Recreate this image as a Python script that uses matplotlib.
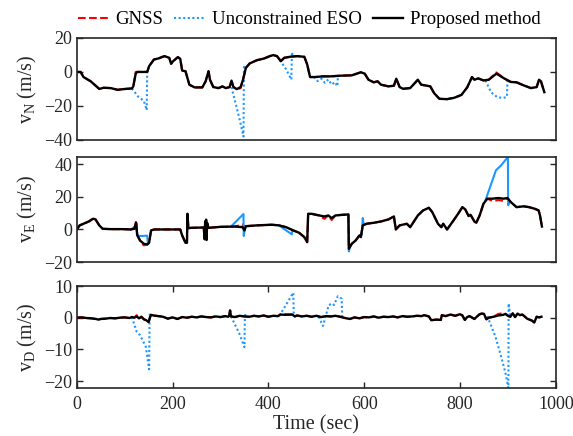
import numpy as np
import matplotlib
matplotlib.use("Agg")
import matplotlib.pyplot as plt
from matplotlib.lines import Line2D

plt.rcParams['font.family'] = ['Liberation Serif', 'DejaVu Serif']
plt.rcParams['mathtext.default'] = 'regular'

# ---------------- vN ----------------
t_n = [0,8,14,29,47,56,71,85,101,115,118,123,126,147,151,161,170,183,193,197,201,211,216,220,227,235,246,262,269,275,278,285,296,304,311,319,323,327,334,342,347,353,361,376,391,403,410,418,426,433,445,460,475,481,487,498,513,529,552,574,593,601,609,620,628,635,651,662,667,674,681,696,712,719,731,738,746,757,773,788,803,815,825,830,838,849,860,876,891,906,918,933,948,960,965,969,976]
prop_n = [0,0,-3,-5.5,-10,-9.3,-9.5,-10.5,-10,-9.7,-8.5,-1,0,0,3.4,7.3,7.9,9.3,8.3,4.8,6.3,8.7,7.7,0.8,0.4,-7.5,-9.1,-9.1,-5.5,0.4,-4.5,-8.9,-9.5,-8.5,-9.5,-8.9,-5.1,-8.9,-10.1,-8.9,-4.6,2.4,5,6.9,7.9,9.3,9.9,9.3,6.3,8.3,8.9,9.3,8.9,4.4,-3,-3,-2.6,-2.6,-2.2,-2,-0.2,-1,-4.6,-6.1,-5.5,-7.5,-8.5,-8.1,-4,-8.9,-9.9,-9.5,-4.6,-7.5,-8.1,-8.5,-12.5,-15.8,-16,-15.2,-13.5,-9.1,-3,-4.6,-3.8,-5,-4.6,-1,-3.6,-5.9,-6.1,-7.9,-9.5,-8.9,-4.6,-5.5,-11.9]
gnss_n = [0,0,-3,-5.5,-10,-9.3,-9.5,-10.5,-10,-9.7,-8.5,0,0,0,3.4,7.3,7.9,9.3,8.3,4.8,6.3,8.7,7.7,0.8,0.4,-7.5,-9.1,-9.1,-5.5,0.4,-4.5,-8.9,-9.5,-8.5,-9.5,-8.9,-5.1,-8.9,-10.1,-9.6,-4.6,2.4,5,6.9,7.9,9.3,9.9,9.3,6.3,8.3,8.9,9.3,8.9,4.4,-3,-3,-2.6,-2.6,-2.2,-2,-0.2,-1,-4.6,-6.1,-5.5,-7.5,-8.5,-8.1,-4,-8.9,-9.9,-9.5,-4.6,-7.5,-8.1,-8.5,-12.5,-15.8,-16,-15.2,-13.5,-9.1,-3,-4.6,-3.8,-5,-4.6,-0.3,-3.6,-5.9,-6.1,-7.9,-9.5,-8.9,-4.6,-5.5,-11.9]
eso_n_t = [115,128,140,146,147,148, np.nan,
           323,332,340,348,349,351, np.nan,
           424,437,448,449,451, np.nan,
           495,503,511,518,525,532,539,544,545,547, np.nan,
           853,865,878,890,898,899,901]
eso_n = [-9.7,-14.5,-17,-22.5,1,0, np.nan,
         -8.9,-19,-28,-38,4,3, np.nan,
         7,1.5,-4.5,11.5,9.3, np.nan,
         -2.8,-5.4,-4,-6.4,-4.4,-7.4,-6,-8.4,-3.5,-2.2, np.nan,
         -5,-12,-14.9,-15.3,-14.7,-5.5,-5.6]

# ---------------- vE ----------------
t_e = [0,6,14,25,34,39,47,54,71,94,113,120,124,126,132,140,147,151,155,162,193,216,220,227,230,231,233,239,265,267,268,269,270,271,272,275,300,330,346,350,353,376,407,422,437,452,464,475,481,483,490,506,517,525,532,540,555,567,568,574,582,590,593,597,605,620,635,651,662,666,674,689,696,712,723,735,742,754,761,765,773,784,796,805,811,818,822,830,834,841,849,857,868,880,891,899,906,918,933,944,956,964,967,971]
prop_e = [0,2.5,3.5,4.9,6.6,6.2,2.5,0.4,0.2,0.2,0,0.4,4.1,-3.3,-6.8,-8.8,-9.2,-8.2,-0.6,0,0,0,-3.7,-8.2,-8.2,9.6,0.8,1,1.2,-6,5,-5,6,-6.5,4,1,1.6,1.8,1.4,-0.6,2,2.5,2.9,2.5,1.4,-0.6,-2,-4.7,-7.8,9.6,9.6,8.6,8,8.6,7,8.6,9,9.2,-11.9,-8.8,-6.8,-3.7,-4.7,2.5,3.5,4.1,4.9,6.2,8,0,2.5,3.5,1.4,8.6,11.7,13.3,10.7,3.5,1.4,3.5,0,4.5,9.6,13.7,12.3,8.2,9,4.9,4.1,8.6,15.8,18.9,18.9,19.3,18.9,19.3,16.8,13.7,14.2,13.7,12.7,11.7,8.6,1.8]
gnss_e = [0,2.5,3.5,4.9,6.6,6.2,2.5,0.4,0.2,0.2,0,0.4,5.5,-3.3,-6.8,-9.8,-9.2,-8.2,-0.6,0,0,0,-3.7,-8.2,-8.2,9.6,0.8,1,1.2,-6,5,-5,6,-6.5,4,1,1.6,1.8,3,-0.6,2,2.5,2.9,2.5,1.4,-0.6,-2,-4.7,-7.8,9.6,9.6,8.6,6.5,8.6,5.8,8.6,9,9.2,-11.9,-8.8,-6.8,-3.7,-4.7,2.5,3.5,4.1,4.9,6.2,8,0,2.5,3.5,1.4,8.6,11.7,13.3,10.7,3.5,1.4,3.5,0,4.5,9.6,13.7,12.3,8.2,9,4.9,4.1,8.6,15.8,18.9,17.5,18,17.6,19.3,16.8,13.7,14.2,13.7,12.7,11.7,8.6,1.8]
eso_e_t = [113,120,124,127,135,147,148.5, np.nan,
           322,348,348.5,352, np.nan,
           422,449,450, np.nan,
           567,568,570, np.nan,
           595,597,599, np.nan,
           853,875,886,900,900.5,903]
eso_e = [0,1.5,2,-4,-4,-3.8,-9, np.nan,
         1.8,9.5,-4,2, np.nan,
         2.5,-3,-0.5, np.nan,
         9.2,-13.5,-10, np.nan,
         -3,7,3, np.nan,
         17.8,36.3,39.4,44.5,14.8,16.5]

# ---------------- vD ----------------
t_d = [0,10,20,30,40,45,50,60,70,80,90,100,110,115,120,125,130,135,140,145,150,153,155,160,170,180,190,200,210,220,230,240,250,260,270,280,290,300,310,316,318,320,322,330,340,350,360,370,380,390,400,410,420,425,435,450,455,460,470,480,490,500,510,520,530,540,550,560,570,580,590,600,610,620,630,640,650,660,670,680,690,700,710,720,725,735,740,750,760,762,770,780,790,800,805,810,815,820,830,840,845,850,855,860,870,880,890,895,900,905,910,915,920,925,930,935,940,945,950,955,960,965,970]
prop_d = [0,0.1,-0.1,-0.2,-0.4,-0.6,-0.4,-0.3,-0.1,-0.2,0,0.1,-0.1,0.2,0,0.4,-0.2,0.3,-0.5,-0.8,-1.4,0.2,0.9,0.7,0.5,0.3,-0.3,0.1,-0.4,0.2,0,0.3,0.1,0.4,0.2,0.1,0.4,0.2,0.5,0.3,0.6,2.3,0.4,0.2,0.6,0.4,0.3,0.6,0.4,0.7,0.3,0.6,0.5,1.0,0.9,1.0,0.4,0.7,0.4,0.6,0.3,0.6,0.2,0.5,0.4,0.6,0.3,-0.1,-0.4,0.1,-0.2,0.2,0.1,0.4,0,0.3,0.2,0.4,0.1,0.5,0.3,0.4,0.6,0.5,0.8,0.4,-0.8,-0.6,-0.7,0.8,0.5,1.0,0.6,1.1,0.7,-0.7,0.2,0.5,-0.4,1.0,1.3,1.2,-0.5,0,0.3,0.7,0.9,1.2,0.6,0.3,1.4,0.2,1.3,0.8,1.0,0.4,-0.3,-0.6,-0.9,-1.5,0.3,0.1,0.3]
gnss_d = [0,0.1,-0.1,-0.2,-0.4,-0.6,-0.4,-0.3,-0.1,-0.2,0,0.1,-0.1,0.2,0,0.8,-0.2,0.3,-0.5,-0.8,-1.4,0.2,0.9,0.7,0.5,0.3,-0.3,0.1,-0.4,0.2,0,0.3,0.1,0.4,0.2,0.1,0.4,0.2,0.5,0.3,0.6,2.3,0.4,0.2,0.6,0.4,0.3,0.6,0.4,0.7,0.3,0.6,0.5,1.0,1.1,1.0,0.4,0.7,0.4,0.6,0.3,0.6,0.2,0.5,0.4,0.6,0.3,-0.1,-0.4,0.1,-0.2,0.2,0.1,0.4,0,0.3,0.2,0.4,0.1,0.5,0.3,0.4,0.6,0.5,0.8,0.4,-0.8,-0.6,-0.7,0.8,0.5,1.0,0.6,1.1,0.7,-0.7,0.2,0.5,-0.4,1.0,1.3,1.2,-0.5,0,0.3,1.2,1.4,1.2,0.6,0.3,1.4,0.2,1.3,0.8,1.0,0.4,-0.3,-0.6,-0.9,-1.5,0.3,0.1,0.3]
eso_d_t = [115,125,132,144,151,152,155, np.nan,
           322,339,350,351,353, np.nan,
           423,452,453, np.nan,
           505,514,526,534,537,545,553,554, np.nan,
           857,874,885,895,901,901.5,905]
eso_d = [0.2,-4.4,-5.5,-9.1,-16.3,1,0.9, np.nan,
         0.4,-4.9,-9.3,1.4,0.4, np.nan,
         0.6,7.9,0.6, np.nan,
         0.3,-2.6,4,4.5,4,6.8,6,0.3, np.nan,
         0.5,-6,-11.8,-17.5,-22.2,4.5,0.3]

labels = ['GNSS', 'Unconstrained ESO', 'Proposed method']
ylabels = ['v$_{N}$ (m/s)', 'v$_{E}$ (m/s)', 'v$_{D}$ (m/s)']
ylims = [(-40, 20), (-20, 44.5), (-22.2, 10)]
yticks = [[-40, -20, 0, 20], [-20, 0, 20, 40], [-20, -10, 0, 10]]
xticks = [0, 200, 400, 600, 800, 1000]

RED = '#ff0000'
BLUE = '#1e96ff'
FRAME = '#262626'
FS_TICK = 13
FS_LAB = 14.5
FS_LEG = 13.5

fig = plt.figure(figsize=(5.73, 4.36), dpi=100)
positions = [[0.134, 0.679, 0.836, 0.234],
             [0.134, 0.399, 0.836, 0.241],
             [0.134, 0.110, 0.836, 0.234]]
data = [(t_n, gnss_n, eso_n_t, eso_n, prop_n),
        (t_e, gnss_e, eso_e_t, eso_e, prop_e),
        (t_d, gnss_d, eso_d_t, eso_d, prop_d)]
axes = []
for i, (pos, (tt, g, et, e, p)) in enumerate(zip(positions, data)):
    ax = fig.add_axes(pos)
    axes.append(ax)
    ax.plot(tt, g, color=RED, ls='--', lw=1.5)
    ls_eso = '-' if i == 1 else (0, (1, 1.2))
    ax.plot(et, e, color=BLUE, ls=ls_eso, lw=1.5)
    ax.plot(tt, p, color='black', ls='-', lw=1.7)
    ax.set_xlim(0, 1000)
    ax.set_ylim(*ylims[i])
    ax.set_yticks(yticks[i])
    ax.set_ylabel(ylabels[i], fontsize=FS_LAB, color=FRAME, labelpad=4)
    for s in ax.spines.values():
        s.set_color(FRAME)
        s.set_linewidth(1.2)
    ax.tick_params(direction='in', length=4, width=1, colors=FRAME,
                   labelsize=FS_TICK, right=True, top=(i == 2), bottom=(i == 2),
                   pad=3)
    if i < 2:
        ax.set_xticks([])
    else:
        ax.set_xticks(xticks)
        ax.tick_params(axis='x', pad=6)
        ax.set_xlabel('Time (sec)', fontsize=FS_LAB, color=FRAME, labelpad=1)

fig.align_ylabels(axes)
handles = [Line2D([], [], color=RED, ls='--', lw=1.5),
           Line2D([], [], color=BLUE, ls=(0, (1, 1.2)), lw=1.5),
           Line2D([], [], color='black', lw=1.7)]
fig.legend(handles, labels, loc='center', bbox_to_anchor=(0.54, 0.955), ncol=3,
           frameon=False, fontsize=FS_LEG, handlelength=1.6, handletextpad=0.4,
           columnspacing=0.6, borderpad=0)

fig.savefig('out.png', dpi=100)
